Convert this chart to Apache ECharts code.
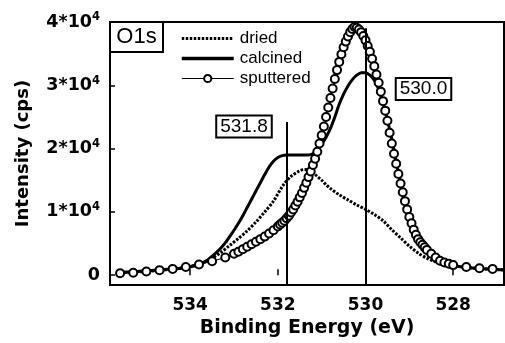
<!DOCTYPE html>
<html>
<head>
<meta charset="utf-8">
<script src="https://cdn.jsdelivr.net/npm/echarts@6/dist/echarts.min.js"></script>
<style>
  html, body { margin: 0; padding: 0; background: #fff; }
  #chart { width: 505px; height: 343px; }
</style>
</head>
<body>
<div id="chart"></div>
<script>
// binding energies (eV) and intensities (cps)
const driedE = [535.6, 535.0, 534.5, 534.0, 533.7, 533.5, 533.3, 533.1, 532.9, 532.7, 532.5, 532.3, 532.1,
  531.9, 531.7, 531.5, 531.4, 531.3, 531.2, 531.1, 531.0, 530.9, 530.8, 530.6, 530.4, 530.2, 530.0,
  529.8, 529.6, 529.4, 529.2, 529.0, 528.8, 528.6, 528.4, 528.2, 528.0, 527.5, 527.0, 526.8];
const driedI = [400, 600, 900, 1400, 2000, 2700, 3600, 4700, 5800, 7000, 8400, 10000, 11700,
  14000, 15600, 16500, 16700, 16600, 16200, 15600, 15000, 14300, 13700, 12700, 11900, 11100, 10400,
  9600, 8600, 7200, 5900, 4600, 3500, 2700, 2100, 1700, 1500, 1100, 900, 800];

const calcinedE = [535.6, 535.4, 535.2, 535.0, 534.8, 534.6, 534.4, 534.2, 534.0, 533.9, 533.8, 533.7,
  533.6, 533.5, 533.4, 533.3, 533.2, 533.1, 533.0, 532.9, 532.8, 532.7, 532.6, 532.5, 532.4, 532.3,
  532.2, 532.1, 532.0, 531.9, 531.8, 531.7, 531.6, 531.5, 531.4, 531.3, 531.2, 531.1, 531.0, 530.9,
  530.8, 530.7, 530.6, 530.5, 530.4, 530.3, 530.2, 530.1, 530.0, 529.9, 529.8, 529.7, 529.6, 529.5,
  529.4, 529.3, 529.2, 529.1, 529.0, 528.9, 528.8, 528.7, 528.6, 528.5, 528.4, 528.3, 528.2, 528.0,
  527.5, 527.0, 526.8];
const calcinedI = [500, 500, 600, 700, 800, 900, 1000, 1100, 1300, 1500, 1700, 2000,
  2400, 3000, 3600, 4300, 5100, 6100, 7100, 8200, 9400, 10700, 12000, 13300, 14600, 15900,
  17100, 18000, 18600, 18900, 19000, 19000, 19000, 19000, 19000, 19000, 19200, 19800, 20700, 21800,
  23200, 25000, 27000, 28600, 29900, 30900, 31600, 32000, 32000, 31600, 30800, 29400, 27200, 24500,
  21500, 18000, 14500, 11500, 9000, 7000, 5500, 4400, 3600, 3000, 2500, 2100, 1800, 1500,
  1100, 900, 800];

const sputteredE = [535.6, 535.3, 535.0, 534.7, 534.4, 534.1, 533.8, 533.5, 533.2, 533.0, 532.9, 532.8,
  532.7, 532.6, 532.5, 532.4, 532.3, 532.2, 532.1, 532.0, 531.95, 531.9, 531.85, 531.8, 531.75, 531.7,
  531.65, 531.6, 531.55, 531.5, 531.45, 531.4, 531.35, 531.3, 531.25, 531.2, 531.15, 531.1, 531.05,
  531.0, 530.95, 530.9, 530.85, 530.8, 530.75, 530.7, 530.65, 530.6, 530.55, 530.5, 530.45, 530.4,
  530.35, 530.3, 530.25, 530.2, 530.15, 530.1, 530.05, 530.0, 529.95, 529.9, 529.85, 529.8, 529.75,
  529.7, 529.65, 529.6, 529.55, 529.5, 529.45, 529.4, 529.35, 529.3, 529.25, 529.2, 529.15, 529.1,
  529.05, 529.0, 528.95, 528.9, 528.85, 528.8, 528.75, 528.7, 528.65, 528.6, 528.5, 528.4, 528.3,
  528.2, 528.1, 528.0, 527.7, 527.4, 527.1, 526.8];
const sputteredI = [300, 400, 600, 800, 1000, 1300, 1700, 2200, 2800, 3400, 3700, 4100,
  4500, 4900, 5300, 5700, 6100, 6600, 7100, 7700, 8000, 8300, 8600, 9000, 9400, 9900,
  10400, 11000, 11600, 12300, 13000, 13800, 14600, 15500, 16400, 17400, 18400, 19500, 20800,
  22100, 23500, 25000, 26500, 28000, 29500, 31000, 32400, 33700, 34900, 36000, 36900, 37700,
  38400, 38900, 39200, 39100, 38800, 38400, 37800, 37100, 36200, 35300, 34200, 33000, 31700,
  30400, 29000, 27500, 26000, 24400, 22500, 20800, 19200, 17600, 16000, 14500, 13100, 11700,
  10400, 9200, 8200, 7200, 6400, 5700, 5200, 4800, 4400, 4000, 3400, 2800, 2300,
  2000, 1800, 1600, 1300, 1100, 1000, 900];

const peakPositions = [531.8, 530.0];
const peakLineTops = [24200, 39000];
const peakLabels = ['531.8', '530.0'];

const xTicks = [534, 532, 530, 528];
const yTicks = [0, 10000, 20000, 30000, 40000];

const xMin = 526.84;
const xMax = 535.83;
const yMin = -1560;
const yMax = 40000;

const boldFont = 'DejaVu Sans';
const thinFont = 'Liberation Sans';

const driedDash = [2.5, 1.5];

function pairs(xs, ys) {
    return xs.map((x, i) => [x, ys[i]]);
}

const chart = echarts.init(document.getElementById('chart'), null, {renderer: 'canvas'});

const option = {
    animation: false,
    backgroundColor: '#fff',
    grid: {
        left: 110,
        top: 22,
        width: 394,
        height: 266,
        show: true,
        borderColor: '#000',
        borderWidth: 2,
        backgroundColor: 'transparent'
    },
    xAxis: {
        type: 'value',
        min: xMin,
        max: xMax,
        inverse: true,
        name: 'Binding Energy (eV)',
        nameLocation: 'middle',
        nameGap: 31,
        nameTextStyle: {fontFamily: boldFont, fontWeight: 'bold', fontSize: 19, color: '#000'},
        axisLine: {show: false},
        splitLine: {show: false},
        axisTick: {
            show: true,
            inside: true,
            length: 6,
            customValues: xTicks,
            lineStyle: {color: '#000', width: 1.5}
        },
        axisLabel: {
            customValues: xTicks,
            margin: 12,
            fontFamily: boldFont,
            fontWeight: 'bold',
            fontSize: 17,
            color: '#000'
        }
    },
    yAxis: {
        type: 'value',
        min: yMin,
        max: yMax,
        name: 'Intensity (cps)',
        nameLocation: 'middle',
        nameGap: 78,
        nameTextStyle: {fontFamily: boldFont, fontWeight: 'bold', fontSize: 18, color: '#000'},
        axisLine: {show: false},
        splitLine: {show: false},
        axisTick: {
            show: true,
            inside: true,
            length: 5,
            customValues: yTicks,
            lineStyle: {color: '#000', width: 1.5}
        },
        axisLabel: {
            customValues: yTicks,
            margin: 10,
            formatter: v => (v === 0 ? '{n|0}' : '{n|' + (v / 10000) + '*10}{s|4}'),
            rich: {
                n: {fontFamily: boldFont, fontWeight: 'bold', fontSize: 17.5, color: '#000'},
                s: {fontFamily: boldFont, fontWeight: 'bold', fontSize: 11.5, color: '#000', padding: [0, 0, 9, 0]}
            }
        }
    },
    legend: {
        data: [
            {name: 'dried', itemStyle: {opacity: 0}, lineStyle: {width: 3, type: driedDash}},
            {name: 'calcined', itemStyle: {opacity: 0}, lineStyle: {width: 3.5}},
            {name: 'sputtered', lineStyle: {width: 1}}
        ],
        orient: 'vertical',
        left: 175,
        top: 25,
        itemWidth: 52,
        itemHeight: 9,
        itemGap: 3,
        textStyle: {fontFamily: thinFont, fontSize: 17, color: '#000', padding: [0, 0, 0, 1]}
    },
    series: [
        {
            name: 'calcined',
            type: 'line',
            data: pairs(calcinedE, calcinedI),
            symbol: 'none',
            smooth: 0.3,
            lineStyle: {color: '#000', width: 3},
            itemStyle: {color: '#000'},
            z: 2,
            markLine: {
                silent: true,
                symbol: 'none',
                label: {show: false},
                lineStyle: {color: '#000', width: 2, type: 'solid'},
                data: peakPositions.map((p, i) => [
                    {coord: [p, yMin]},
                    {coord: [p, peakLineTops[i]]}
                ])
            }
        },
        {
            name: 'dried',
            type: 'line',
            data: pairs(driedE, driedI),
            symbol: 'none',
            smooth: 0.3,
            lineStyle: {color: '#000', width: 3, type: driedDash},
            itemStyle: {color: '#000'},
            z: 3
        },
        {
            name: 'sputtered',
            type: 'line',
            data: pairs(sputteredE, sputteredI),
            symbol: 'circle',
            symbolSize: 8,
            showAllSymbol: true,
            lineStyle: {color: '#000', width: 1},
            itemStyle: {color: '#fff', borderColor: '#000', borderWidth: 2},
            z: 4
        }
    ],
    graphic: [
        {
            type: 'rect',
            shape: {x: 110, y: 22, width: 53, height: 30},
            style: {fill: '#fff', stroke: '#000', lineWidth: 2},
            z: 100
        },
        {
            type: 'text',
            x: 136.5,
            y: 37,
            style: {text: 'O1s', font: '22px ' + thinFont, fill: '#000', align: 'center', verticalAlign: 'middle'},
            z: 101
        },
        {
            type: 'text',
            x: 244,
            y: 126.5,
            style: {
                text: peakLabels[0], font: '19px ' + thinFont, fill: '#000',
                align: 'center', verticalAlign: 'middle',
                backgroundColor: '#fff', borderColor: '#000', borderWidth: 2, padding: [1, 3, 0, 3]
            },
            z: 101
        },
        {
            type: 'text',
            x: 423.5,
            y: 89,
            style: {
                text: peakLabels[1], font: '19px ' + thinFont, fill: '#000',
                align: 'center', verticalAlign: 'middle',
                backgroundColor: '#fff', borderColor: '#000', borderWidth: 2, padding: [1, 3, 0, 3]
            },
            z: 101
        }
    ]
};

chart.setOption(option);
</script>
</body>
</html>
